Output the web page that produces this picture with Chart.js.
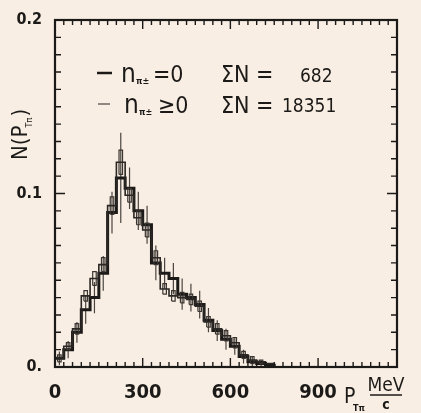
<!DOCTYPE html>
<html>
<head>
<meta charset="utf-8">
<script src="https://cdn.jsdelivr.net/npm/chart.js@4.4.0/dist/chart.umd.min.js"></script>
<style>
  html, body { margin: 0; padding: 0; background: #f9eee3; }
  #wrap { width: 421px; height: 413px; }
</style>
</head>
<body>
<div id="wrap"><canvas id="grafico" width="421" height="413"></canvas></div>
<script>
// Bins de 30 MeV/c (borda esquerda de cada bin)
const binEdges = [0, 30, 60, 90, 120, 150, 180, 210, 240, 270, 300, 330, 360, 390, 420, 450, 480, 510, 540, 570, 600, 630, 660, 690, 720];
const binWidth = 30;

// n = 0, ΣN = 682 (linha grossa, barras de erro)
const valsZero = [0.005, 0.010, 0.020, 0.033, 0.040, 0.054, 0.089, 0.109, 0.103, 0.090, 0.082, 0.060, 0.054, 0.051, 0.042, 0.040, 0.036, 0.027, 0.021, 0.016, 0.012, 0.006, 0.003, 0.002, 0.001];
const errZero = [0.004, 0.005, 0.006, 0.008, 0.009, 0.010, 0.012, 0.026, 0.012, 0.011, 0.011, 0.010, 0.009, 0.009, 0.009, 0.008, 0.008, 0.007, 0.006, 0.006, 0.005, 0.004, 0.003, 0.002, 0];

// n >= 0, ΣN = 18351 (linha fina, caixinhas de erro)
const valsAll = [0.005, 0.012, 0.022, 0.041, 0.051, 0.059, 0.093, 0.118, 0.099, 0.086, 0.079, 0.063, 0.045, 0.041, 0.040, 0.039, 0.035, 0.026, 0.022, 0.018, 0.014, 0.007, 0.004, 0.003, 0.002];
const errAll = [0.002, 0.002, 0.003, 0.003, 0.004, 0.004, 0.005, 0.007, 0.004, 0.004, 0.004, 0.004, 0.003, 0.003, 0.003, 0.003, 0.003, 0.003, 0.003, 0.003, 0.003, 0.002, 0.002, 0.001, 0];

// Rótulos dos eixos
const xTickLabels = [0, 300, 600, 900];
const yTickLabels = { 0: '0.', 0.1: '0.1', 0.2: '0.2' };

const tinta = '#1c1a18';
const fonteEstreita = "'DejaVu Sans Condensed', 'Liberation Sans Narrow', sans-serif";

// Histograma em degraus
function histPoints(vals) {
    const pts = binEdges.map((x, i) => ({ x: x, y: vals[i] }));
    pts.push({ x: binEdges[binEdges.length - 1] + binWidth, y: 0 });
    return pts;
}

// Barras de erro verticais (separadas por null)
function errorBarPoints(vals, errs) {
    const pts = [];
    binEdges.forEach((x, i) => {
        if (!errs[i]) return;
        const c = x + binWidth / 2;
        pts.push({ x: c, y: vals[i] - errs[i] }, { x: c, y: vals[i] + errs[i] }, { x: c, y: null });
    });
    return pts;
}

// Caixinhas de erro
function errorBoxPoints(vals, errs) {
    const pts = [];
    const hw = 6;
    binEdges.forEach((x, i) => {
        if (!errs[i]) return;
        const c = x + binWidth / 2;
        const lo = vals[i] - errs[i], hi = vals[i] + errs[i];
        pts.push({ x: c - hw, y: lo }, { x: c + hw, y: lo }, { x: c + hw, y: hi },
                 { x: c - hw, y: hi }, { x: c - hw, y: lo }, { x: c, y: null });
    });
    return pts;
}

// Moldura e tiquinhos para dentro nos quatro lados
const molduraPlugin = {
    id: 'moldura',
    afterDatasetsDraw(chart) {
        const ctx = chart.ctx;
        const a = chart.chartArea;
        const xs = chart.scales.x, ys = chart.scales.y;
        ctx.save();
        ctx.strokeStyle = tinta;
        ctx.lineWidth = 1.4;
        for (let v = 30; v < xs.max; v += 30) {
            const px = xs.getPixelForValue(v);
            const len = v % 300 === 0 ? 9 : 5;
            ctx.beginPath();
            ctx.moveTo(px, a.bottom); ctx.lineTo(px, a.bottom - len);
            ctx.moveTo(px, a.top); ctx.lineTo(px, a.top + len);
            ctx.stroke();
        }
        for (let k = 1; k < 20; k++) {
            const py = ys.getPixelForValue(k * 0.01);
            const len = k === 10 ? 10 : 6;
            ctx.beginPath();
            ctx.moveTo(a.left, py); ctx.lineTo(a.left + len, py);
            ctx.moveTo(a.right, py); ctx.lineTo(a.right - len, py);
            ctx.stroke();
        }
        ctx.lineWidth = 2.2;
        ctx.strokeRect(a.left, a.top, a.right - a.left, a.bottom - a.top);
        ctx.restore();
    },
    afterDraw(chart) {
        const ctx = chart.ctx;
        ctx.save();
        ctx.fillStyle = tinta;
        ctx.strokeStyle = tinta;

        // Legenda dentro do gráfico
        ctx.lineWidth = 2.5;
        ctx.beginPath(); ctx.moveTo(97, 73); ctx.lineTo(112, 73); ctx.stroke();
        ctx.strokeStyle = '#6b6560';
        ctx.lineWidth = 1.5;
        ctx.beginPath(); ctx.moveTo(98, 104); ctx.lineTo(110, 104); ctx.stroke();

        ctx.textBaseline = 'alphabetic';
        ctx.font = '26px ' + fonteEstreita;
        ctx.fillText('n', 121, 82);
        ctx.fillText('n', 124, 113);
        ctx.font = 'bold 9px ' + fonteEstreita;
        ctx.fillText('π±', 136, 84);
        ctx.fillText('π±', 139, 115);
        ctx.font = '23px ' + fonteEstreita;
        ctx.fillText('=0', 153, 82);
        ctx.fillText('≥0', 158, 113);
        ctx.fillText('ΣN =', 221, 82);
        ctx.fillText('ΣN =', 221, 113);
        ctx.font = '19px ' + fonteEstreita;
        ctx.fillText('682', 300, 82);
        ctx.fillText('18351', 282, 112);

        // Título do eixo y
        ctx.save();
        ctx.translate(27, 128);
        ctx.rotate(-Math.PI / 2);
        ctx.textAlign = 'left';
        ctx.font = '22px ' + fonteEstreita;
        ctx.fillText('N(P', -32, 0);
        const w = ctx.measureText('N(P').width;
        ctx.font = '9px ' + fonteEstreita;
        ctx.fillText('Tπ', -32 + w - 2, 5);
        ctx.font = '22px ' + fonteEstreita;
        ctx.fillText(')', -32 + w + 9, 0);
        ctx.restore();

        // Título do eixo x
        ctx.font = '21px ' + fonteEstreita;
        ctx.fillText('P', 344, 403);
        ctx.font = 'bold 9px ' + fonteEstreita;
        ctx.fillText('Tπ', 353, 411);
        ctx.font = '19px ' + fonteEstreita;
        ctx.textAlign = 'center';
        ctx.fillText('MeV', 386, 391);
        ctx.lineWidth = 1.5;
        ctx.strokeStyle = tinta;
        ctx.beginPath(); ctx.moveTo(370, 395); ctx.lineTo(402, 395); ctx.stroke();
        ctx.font = 'bold 14px ' + fonteEstreita;
        ctx.fillText('c', 386, 409);
        ctx.restore();
    }
};

const ctxGrafico = document.getElementById('grafico').getContext('2d');
new Chart(ctxGrafico, {
    type: 'line',
    data: {
        datasets: [
            {
                label: 'n ≥ 0',
                data: histPoints(valsAll),
                stepped: true,
                borderColor: '#2a2724',
                borderWidth: 1.6
            },
            {
                label: 'caixas n ≥ 0',
                data: errorBoxPoints(valsAll, errAll),
                borderColor: '#3a3530',
                borderWidth: 1.2
            },
            {
                label: 'n = 0',
                data: histPoints(valsZero),
                stepped: true,
                borderColor: tinta,
                borderWidth: 3
            },
            {
                label: 'erros n = 0',
                data: errorBarPoints(valsZero, errZero),
                borderColor: '#4a4540',
                borderWidth: 1.2
            }
        ]
    },
    options: {
        responsive: false,
        animation: false,
        spanGaps: false,
        elements: { point: { radius: 0 }, line: { tension: 0, fill: false } },
        layout: { padding: { top: 20, right: 24, left: 0, bottom: 0 } },
        plugins: { legend: { display: false }, tooltip: { enabled: false } },
        scales: {
            x: {
                type: 'linear',
                min: 0,
                max: 1170,
                grid: { display: false },
                border: { display: false },
                afterFit: s => { s.height = 46; },
                afterBuildTicks: s => { s.ticks = xTickLabels.map(v => ({ value: v })); },
                ticks: {
                    autoSkip: false,
                    padding: 6,
                    color: tinta,
                    maxRotation: 0,
                    font: { family: fonteEstreita, size: 20, weight: 'bold' },
                    callback: v => String(v)
                }
            },
            y: {
                min: 0,
                max: 0.2,
                grid: { display: false },
                border: { display: false },
                afterFit: s => { s.width = 55; },
                ticks: {
                    stepSize: 0.1,
                    padding: 5,
                    color: tinta,
                    font: { family: fonteEstreita, size: 16, weight: 'bold' },
                    callback: v => yTickLabels[Math.round(v * 10) / 10] || ''
                }
            }
        }
    },
    plugins: [molduraPlugin]
});
</script>
</body>
</html>
